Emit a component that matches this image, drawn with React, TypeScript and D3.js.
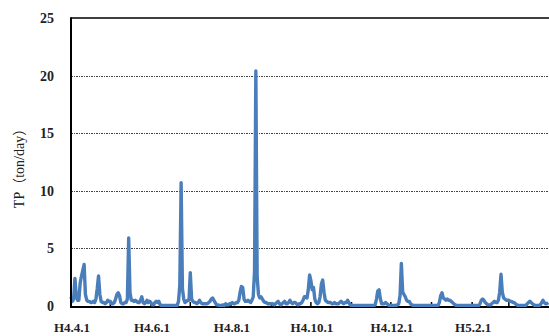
import * as d3 from "d3";
import { useEffect, useRef } from "react";

// Daily TP load (ton/day), H4.4.1 (1992-04-01) .. H5.3.31
const startDate = "1992-04-01";
const endDate = "1993-04-01";

const tpApr = [0.8, 0.4, 0.6, 2.4, 0.9, 0.5, 0.5, 2.0, 2.6, 3.1, 3.6, 1.0, 0.5, 0.4, 0.4, 0.3, 0.3, 0.4, 0.3, 0.6, 1.5, 2.6, 1.0, 0.4, 0.3, 0.3, 0.2, 0.3, 0.5, 0.4];
const tpMay = [0.4, 0.2, 0.2, 0.3, 0.6, 1.0, 1.15, 0.9, 0.3, 0.2, 0.2, 0.3, 0.3, 0.6, 5.9, 1.2, 0.5, 0.5, 0.4, 0.5, 0.4, 0.3, 0.3, 0.5, 0.8, 0.3, 0.2, 0.3, 0.5, 0.3, 0.4];
const tpJun = [0.3, 0.1, 0.1, 0.3, 0.4, 0.3, 0.4, 0.1, 0.05, 0.05, 0.05, 0.05, 0.05, 0.05, 0.05, 0.05, 0.05, 0.05, 0.05, 0.05, 0.05, 0.4, 1.8, 10.7, 1.5, 0.6, 0.3, 0.4, 0.5, 0.5];
const tpJul = [2.9, 0.6, 0.4, 0.3, 0.3, 0.2, 0.3, 0.5, 0.3, 0.2, 0.2, 0.2, 0.2, 0.2, 0.3, 0.4, 0.6, 0.7, 0.5, 0.3, 0.1, 0.1, 0.05, 0.05, 0.05, 0.1, 0.05, 0.2, 0.1, 0.1, 0.2];
const tpAug = [0.2, 0.3, 0.2, 0.2, 0.3, 0.3, 0.5, 1.2, 1.7, 1.6, 0.6, 0.4, 0.4, 0.5, 0.4, 0.3, 0.5, 0.8, 3.0, 20.4, 2.5, 1.0, 0.7, 0.8, 0.6, 0.4, 0.3, 0.3, 0.2, 0.2, 0.2];
const tpSep = [0.2, 0.2, 0.1, 0.2, 0.3, 0.4, 0.2, 0.1, 0.2, 0.3, 0.4, 0.2, 0.2, 0.3, 0.5, 0.3, 0.2, 0.3, 0.3, 0.2, 0.1, 0.2, 0.2, 0.3, 0.5, 0.8, 0.8, 0.7, 1.4, 2.7];
const tpOct = [2.2, 1.4, 1.6, 0.6, 0.3, 0.2, 0.3, 0.8, 1.9, 2.25, 1.2, 0.5, 0.4, 0.3, 0.3, 0.3, 0.2, 0.2, 0.3, 0.2, 0.2, 0.2, 0.3, 0.4, 0.3, 0.2, 0.3, 0.3, 0.5, 0.3, 0.1];
const tpNov = [0.05, 0.05, 0.05, 0.05, 0.05, 0.05, 0.05, 0.05, 0.05, 0.05, 0.05, 0.05, 0.05, 0.05, 0.05, 0.05, 0.05, 0.05, 0.1, 0.6, 1.3, 1.4, 0.6, 0.2, 0.2, 0.2, 0.3, 0.2, 0.1, 0.05];
const tpDec = [0.05, 0.05, 0.05, 0.05, 0.05, 0.1, 0.2, 0.9, 3.7, 1.2, 1.0, 0.8, 0.5, 0.4, 0.4, 0.2, 0.1, 0.05, 0.05, 0.05, 0.05, 0.05, 0.05, 0.05, 0.05, 0.05, 0.05, 0.05, 0.05, 0.05, 0.05];
const tpJan = [0.05, 0.05, 0.05, 0.05, 0.05, 0.05, 0.3, 0.9, 1.15, 0.7, 0.6, 0.5, 0.6, 0.5, 0.5, 0.4, 0.3, 0.2, 0.1, 0.05, 0.05, 0.05, 0.05, 0.05, 0.05, 0.05, 0.05, 0.05, 0.05, 0.05, 0.05];
const tpFeb = [0.05, 0.05, 0.05, 0.05, 0.05, 0.05, 0.2, 0.5, 0.6, 0.5, 0.3, 0.2, 0.1, 0.1, 0.1, 0.2, 0.3, 0.4, 0.3, 0.3, 0.5, 1.2, 2.75, 1.2, 0.7, 0.6, 0.5, 0.5];
const tpMar = [0.5, 0.4, 0.4, 0.3, 0.3, 0.2, 0.1, 0.05, 0.05, 0.05, 0.05, 0.05, 0.05, 0.05, 0.2, 0.3, 0.4, 0.3, 0.2, 0.1, 0.05, 0.05, 0.05, 0.05, 0.1, 0.3, 0.5, 0.3, 0.2, 0.2, 0.3];

const yTicks = [0, 5, 10, 15, 20, 25];
const xTickDates = ["1992-04-01", "1992-06-01", "1992-08-01", "1992-10-01", "1992-12-01", "1993-02-01"];
const xTickLabels = ["H4.4.1", "H4.6.1", "H4.8.1", "H4.10.1", "H4.12.1", "H5.2.1"];
const yTitle = "TP（ton/day）";

const W = 549;
const H = 336;

const App = () => {
  const svgRef = useRef<SVGSVGElement | null>(null);

  useEffect(() => {
    if (!svgRef.current) return;
    const svg = d3.select(svgRef.current);
    svg.selectAll("*").remove();

    const parse = d3.utcParse("%Y-%m-%d");
    const t0 = parse(startDate) as Date;
    const t1 = parse(endDate) as Date;
    const values = [...tpApr, ...tpMay, ...tpJun, ...tpJul, ...tpAug, ...tpSep, ...tpOct, ...tpNov, ...tpDec, ...tpJan, ...tpFeb, ...tpMar];
    const data = values.map((v, i) => ({ date: d3.utcDay.offset(t0, i), v }));

    const left = 71;
    const top = 18;
    const bottom = 306;

    const x = d3.scaleUtc().domain([t0, t1]).range([left, W + 0.5]);
    const y = d3.scaleLinear().domain([0, 25]).range([bottom, top]);

    const font = "'Liberation Serif', 'DejaVu Serif', serif";

    // dotted gridlines
    svg
      .append("g")
      .selectAll("line")
      .data(yTicks.filter((d) => d > 0 && d < 25))
      .join("line")
      .attr("x1", left)
      .attr("x2", W)
      .attr("y1", (d) => Math.round(y(d)) + 0.5)
      .attr("y2", (d) => Math.round(y(d)) + 0.5)
      .attr("stroke", "#444")
      .attr("stroke-width", 1)
      .attr("stroke-dasharray", "2,1,1,1");

    // top border
    svg
      .append("line")
      .attr("x1", left)
      .attr("x2", W)
      .attr("y1", top)
      .attr("y2", top)
      .attr("stroke", "#000")
      .attr("stroke-width", 1.5);

    // x axis line and month ticks
    svg
      .append("line")
      .attr("x1", left)
      .attr("x2", W)
      .attr("y1", bottom + 1)
      .attr("y2", bottom + 1)
      .attr("stroke", "#000")
      .attr("stroke-width", 2);

    svg
      .append("g")
      .selectAll("line")
      .data(d3.utcMonth.range(t0, t1))
      .join("line")
      .attr("x1", (d) => x(d))
      .attr("x2", (d) => x(d))
      .attr("y1", bottom - 4)
      .attr("y2", bottom + 1)
      .attr("stroke", "#000")
      .attr("stroke-width", 1.5);

    // series
    const line = d3
      .line<{ date: Date; v: number }>()
      .x((d) => x(d.date))
      .y((d) => y(d.v));

    svg
      .append("path")
      .datum(data)
      .attr("d", line)
      .attr("fill", "none")
      .attr("stroke", "#4a7ebb")
      .attr("stroke-width", 3.4)
      .attr("stroke-linejoin", "round");

    // y axis line
    svg
      .append("line")
      .attr("x1", left)
      .attr("x2", left)
      .attr("y1", top - 0.75)
      .attr("y2", bottom + 2)
      .attr("stroke", "#000")
      .attr("stroke-width", 2);

    // y tick labels
    svg
      .append("g")
      .selectAll("text")
      .data(yTicks)
      .join("text")
      .attr("x", 54)
      .attr("y", (d) => y(d))
      .attr("dy", "0.36em")
      .attr("text-anchor", "end")
      .attr("font-family", font)
      .attr("font-weight", "bold")
      .attr("font-size", 14)
      .attr("fill", "#222")
      .text((d) => d);

    // x tick labels
    svg
      .append("g")
      .selectAll("text")
      .data(xTickDates)
      .join("text")
      .attr("x", (d) => x(parse(d) as Date) + 1)
      .attr("y", 332)
      .attr("text-anchor", "middle")
      .attr("font-family", font)
      .attr("font-weight", "bold")
      .attr("font-size", 13)
      .attr("fill", "#222")
      .text((_d, i) => xTickLabels[i]);

    // y title
    svg
      .append("text")
      .attr("transform", `translate(24,${(top + bottom) / 2 + 3}) rotate(-90)`)
      .attr("text-anchor", "middle")
      .attr("font-family", "'Liberation Serif', 'Noto Sans CJK JP', serif")
      .attr("font-size", 14)
      .attr("fill", "#222")
      .text(yTitle);
  }, []);

  return (
    <svg
      ref={svgRef}
      width={W}
      height={H}
      style={{ position: "absolute", left: 0, top: 0, background: "#fff" }}
    />
  );
};

export default App;
